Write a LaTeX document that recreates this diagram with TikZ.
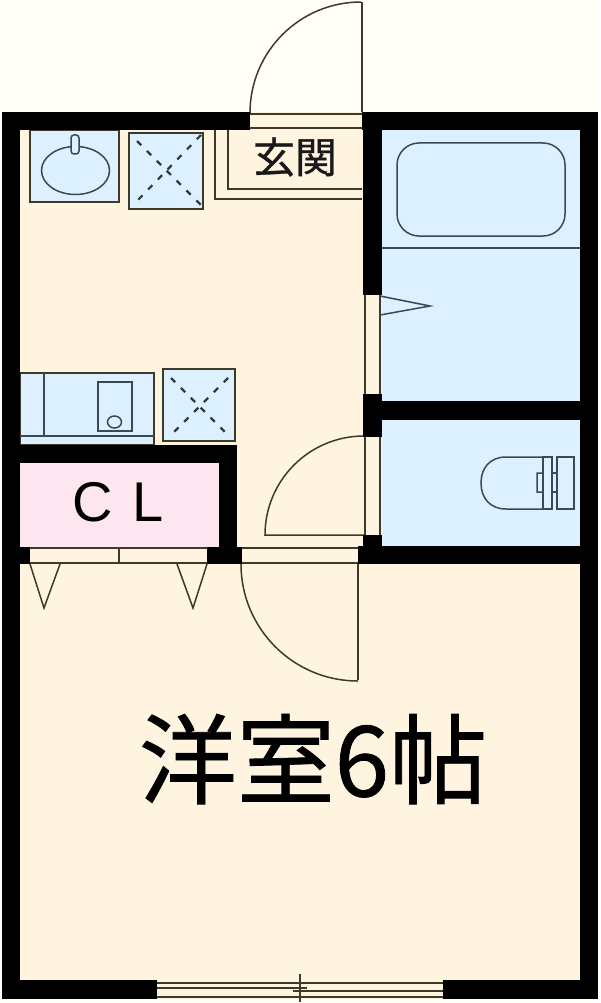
\documentclass[tikz,border=0pt]{standalone}
\usepackage{fontspec}
\newfontfamily\jpfont[FakeBold=0.8]{Noto Sans CJK JP}
\setmainfont{Liberation Sans}
\definecolor{outside}{HTML}{FFFEF8}
\definecolor{floor}{HTML}{FEF4E0}
\definecolor{wet}{HTML}{DDF0FF}
\definecolor{closet}{HTML}{FDE6F0}
\definecolor{lineink}{HTML}{3E3A2A}
\definecolor{wetink}{HTML}{3A4A52}
\tikzset{
  wall/.style={fill=black,draw=none},
  thin line/.style={draw=lineink,line width=1.5pt},
  wet line/.style={draw=wetink,line width=1.5pt},
  wet box/.style={fill=wet,draw=lineink,line width=1.5pt},
  cross/.style={draw=wetink!80!black,line width=2.2pt,dash pattern=on 6pt off 8pt},
}
\begin{document}
\begin{tikzpicture}[x=1pt,y=-1pt]
        \useasboundingbox (0,0) rectangle (600,1003);

        % Ground
        \fill [outside] (0,0) rectangle (600,1003);
        \fill [floor] (2,112) rectangle (598,999);
        \fill [wet] (382,130) rectangle (580,546);
        \fill [closet] (20,463) rectangle (219,547);

        % Entrance
        \draw [thin line] (250,114) -- (362,114);
        \draw [thin line] (250,128) -- (362,128);
        \draw [thin line] (362,112) -- (362,2);
        \draw [thin line] (250,113) arc [start angle=180,end angle=90,radius=111pt];
        \draw [thin line] (228,130) -- (228,189) -- (362,189);
        \draw [thin line] (215,130) -- (215,199) -- (362,199);
        \node [font=\jpfont\fontsize{42}{42}\selectfont,text=black!90] (entrance) at (295,157) {玄関};

        % Sink and washer
        \draw [wet box] (30,130) rectangle (119,202);
        \draw [wet line] (75.5,170.5) circle [x radius=34pt,y radius=24pt];
        \draw [wet line,fill=wet,rounded corners=3pt] (71,135) rectangle (79,154);
        \draw [wet box] (129,133) rectangle (203,209);
        \draw [cross] (137,141) -- (201,205);
        \draw [cross] (201,135) -- (137,201);

        % Kitchen
        \draw [wet box] (20,373) -- (154,373) -- (154,445) -- (20,445) -- cycle;
        \draw [wet line] (44,373) -- (44,436);
        \draw [wet line] (20,436) -- (154,436);
        \draw [wet line] (98,382) rectangle (132,431);
        \draw [wet line] (114.5,422) circle [x radius=7pt,y radius=6pt];
        \draw [wet box] (163,369) rectangle (235,441);
        \draw [cross] (171,378) -- (228,435);
        \draw [cross] (228,378) -- (171,435);

        % Closet
        \node [font=\fontsize{56}{56}\selectfont,text=black] (cl) at (118,502) {C\hspace{20pt}L};
        \draw [thin line] (30,548) -- (207,548);
        \draw [thin line] (30,563) -- (207,563);
        \draw [thin line] (119,548) -- (119,563);
        \draw [thin line] (30,564) -- (44,608) -- (60,564);
        \draw [thin line] (177,564) -- (193,608) -- (207,564);

        % Room door
        \draw [thin line] (242,548) -- (358,548);
        \draw [thin line] (242,563) -- (358,563);
        \draw [thin line] (358,564) -- (358,680);
        \draw [thin line] (241,564) arc [start angle=180,end angle=270,radius=117pt];

        % Corridor door and bath door
        \draw [thin line] (365,295) -- (365,394);
        \draw [thin line] (380,295) -- (380,394);
        \draw [thin line] (365,437) -- (365,535);
        \draw [thin line] (380,437) -- (380,535);
        \draw [thin line] (365,535) -- (265,535) arc [start angle=180,end angle=90,radius=99pt];
        \draw [wet line] (380,296) -- (430,306) -- (380,315);

        % Bath
        \draw [wet line,rounded corners=22pt] (397,143) rectangle (565,236);
        \draw [wet line] (382,248) -- (580,248);

        % Toilet
        \draw [wet line] (543,457) -- (506,457) .. controls (490,457) and (481,468) .. (481,483)
              .. controls (481,498) and (490,509) .. (506,509) -- (543,509)
              -- (543,492) -- (537,492) -- (537,473) -- (543,473) -- cycle;
        \draw [wet line] (543,457) rectangle (552,509);
        \draw [wet line] (557,457) rectangle (574,509);
        \draw [wet line] (552,473) -- (557,473);
        \draw [wet line] (552,492) -- (557,492);

        % Room label
        \node [font=\jpfont\fontsize{98}{98}\selectfont,text=black] (room) at (313,759) {洋室6帖};

        % Window
        \draw [thin line] (157,983) -- (443,983);
        \draw [thin line] (157,997) -- (443,997);
        \draw [thin line] (157,988) -- (307,988);
        \draw [thin line] (293,991) -- (443,991);
        \draw [thin line] (300,974) -- (300,1002);

        % Walls
        \fill [wall] (2,112) rectangle (20,999);
        \fill [wall] (2,112) rectangle (250,130);
        \fill [wall] (362,112) rectangle (598,130);
        \fill [wall] (580,112) rectangle (598,999);
        \fill [wall] (363,112) rectangle (382,295);
        \fill [wall] (363,394) rectangle (382,437);
        \fill [wall] (382,401) rectangle (580,420);
        \fill [wall] (363,535) rectangle (382,546);
        \fill [wall] (358,546) rectangle (598,564);
        \fill [wall] (20,445) rectangle (237,463);
        \fill [wall] (219,445) rectangle (237,547);
        \fill [wall] (207,547) rectangle (242,564);
        \fill [wall] (20,547) rectangle (30,564);
        \fill [wall] (2,980) rectangle (157,999);
        \fill [wall] (443,980) rectangle (598,999);

    \end{tikzpicture}
\end{document}
